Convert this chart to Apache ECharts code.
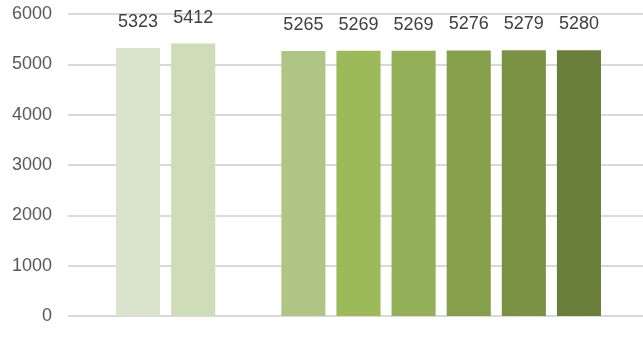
<!DOCTYPE html>
<html>
<head>
<meta charset="utf-8">
<script src="https://cdn.jsdelivr.net/npm/echarts@6/dist/echarts.min.js"></script>
<style>
  html, body { margin: 0; padding: 0; background: #fff; }
  #chart { width: 643px; height: 358px; }
</style>
</head>
<body>
<div id="chart"></div>
<script>
// 数据
var categories = ['1', '2', '3', '4', '5', '6', '7', '8', '9'];
var values = [5323, 5412, null, 5265, 5269, 5269, 5276, 5279, 5280];
var colors = ['#dae3cb', '#cedcb7', '#ffffff', '#aec585', '#9cba59', '#93af57', '#869f4b', '#7b9245', '#6a7f3a'];
var yTicks = [0, 1000, 2000, 3000, 4000, 5000, 6000];

var chart = echarts.init(document.getElementById('chart'));
chart.setOption({
  animation: false,
  grid: [
    { left: 68, right: 0, top: 14, bottom: 42 },
    { left: 110.5, right: 36.5, top: 14, bottom: 42 }
  ],
  xAxis: [
    { gridIndex: 0, type: 'category', data: [''], show: false },
    { gridIndex: 1, type: 'category', data: categories, show: false }
  ],
  yAxis: [
    {
      gridIndex: 0,
      type: 'value',
      min: yTicks[0],
      max: yTicks[yTicks.length - 1],
      interval: 1000,
      axisLine: { show: false },
      axisTick: { show: false },
      axisLabel: {
        margin: 16,
        color: '#595959',
        fontSize: 18,
        fontFamily: 'Liberation Sans, Arial, sans-serif',
        formatter: function (v) { return String(v); }
      },
      splitLine: { lineStyle: { color: '#d9d9d9', width: 2 } }
    },
    {
      gridIndex: 1,
      type: 'value',
      min: yTicks[0],
      max: yTicks[yTicks.length - 1],
      interval: 1000,
      show: false,
      splitLine: { show: false }
    }
  ],
  series: [{
    type: 'bar',
    xAxisIndex: 1,
    yAxisIndex: 1,
    barCategoryGap: '20%',
    data: values.map(function (v, i) {
      return { value: v, itemStyle: { color: colors[i] } };
    }),
    label: {
      show: true,
      position: 'top',
      distance: 17,
      color: '#404040',
      fontSize: 18,
      fontFamily: 'Liberation Sans, Arial, sans-serif'
    }
  }]
});
</script>
</body>
</html>
